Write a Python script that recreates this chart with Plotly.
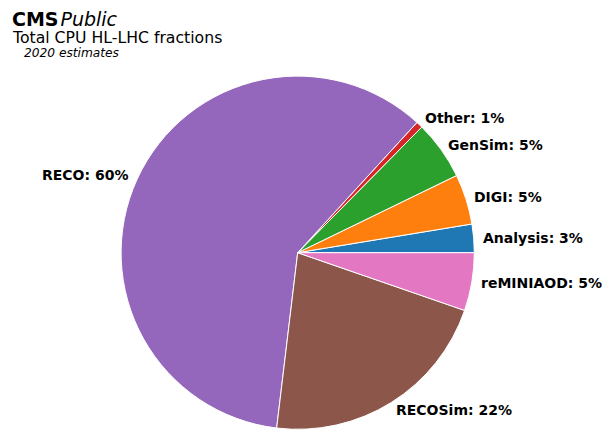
import numpy as np
import plotly.graph_objects as go

W, H = 606, 431

categories = ["Analysis", "DIGI", "GenSim", "Other", "RECO", "RECOSim", "reMINIAOD"]
fractions = [2.6, 4.6, 5.4, 0.6, 59.9, 21.6, 5.3]
colors = ["#1f77b4", "#ff7f0e", "#2ca02c", "#d62728", "#9467bd", "#8c564b", "#e377c2"]


def px_x(x):
    return x / W


def px_y(y):
    return 1 - y / H


# pie geometry in page pixels
cx, cy, r = 297.7, 252.7, 176.6
label_dist = 1.05

total = sum(fractions)
first_angle = 360 * fractions[0] / total

fig = go.Figure(
    go.Pie(
        labels=categories,
        values=fractions,
        marker=dict(colors=colors, line=dict(color="white", width=1)),
        sort=False,
        direction="counterclockwise",
        rotation=90 - first_angle,
        textinfo="none",
        hoverinfo="label+percent",
        showlegend=False,
        domain=dict(x=[px_x(cx - r), px_x(cx + r)], y=[px_y(cy + r), px_y(cy - r)]),
    )
)

# matplotlib-style labels just outside the wedges
start = 0.0
for name, v in zip(categories, fractions):
    theta = np.deg2rad(start + 180 * v / total)
    start += 360 * v / total
    right = np.cos(theta) > 0
    lx = cx + label_dist * r * np.cos(theta) + (-2 if right else 2)
    ly = cy - label_dist * r * np.sin(theta)
    fig.add_annotation(
        x=px_x(lx), y=px_y(ly), xref="paper", yref="paper",
        text=f"<b>{name}: {v:.0f}%</b>",
        showarrow=False,
        xanchor="left" if right else "right",
        yanchor="middle",
        font=dict(size=14, color="black"),
    )

fig.add_annotation(
    x=px_x(10), y=px_y(32), xref="paper", yref="paper", xanchor="left", yanchor="bottom",
    text="<b>CMS</b>\u200a<i>Public</i>", showarrow=False, font=dict(size=19, color="black"),
)
fig.add_annotation(
    x=px_x(10), y=px_y(49), xref="paper", yref="paper", xanchor="left", yanchor="bottom",
    text="Total CPU HL-LHC fractions", showarrow=False, font=dict(size=15.7, color="black"),
)
fig.add_annotation(
    x=px_x(22), y=px_y(62), xref="paper", yref="paper", xanchor="left", yanchor="bottom",
    text="<i>2020 estimates</i>", showarrow=False, font=dict(size=12.2, color="black"),
)

fig.update_layout(
    width=W,
    height=H,
    margin=dict(l=0, r=0, t=0, b=0),
    paper_bgcolor="white",
    plot_bgcolor="white",
    font=dict(family="DejaVu Sans"),
)

# drop the default body margin so the figure fills the window exactly
fig.write_html(
    "out.html",
    config={"displayModeBar": False},
    post_script="document.body.style.margin='0';document.body.style.overflow='hidden';",
)
